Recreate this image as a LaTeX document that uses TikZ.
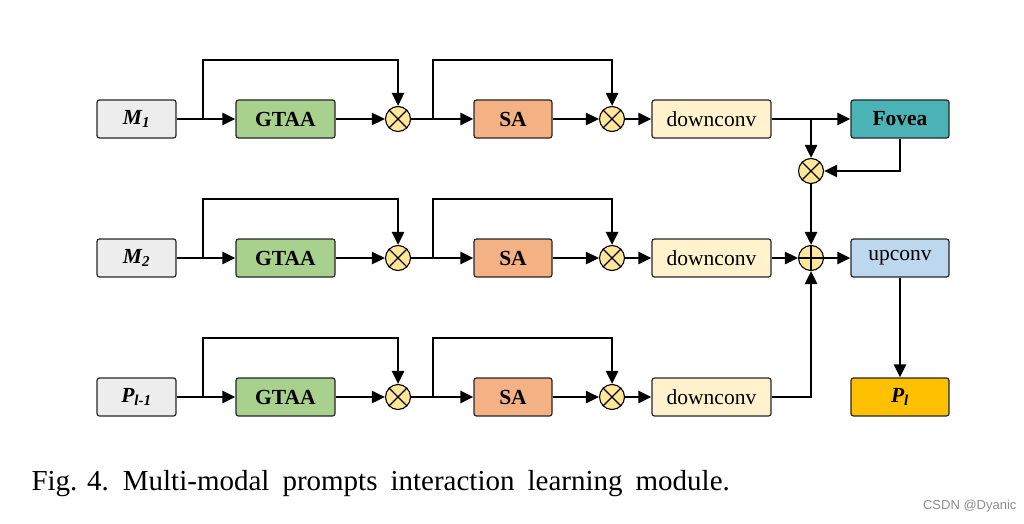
\documentclass[tikz,border=0pt]{standalone}
\usepackage{fontspec}
\setmainfont{Liberation Serif}
\setsansfont{Liberation Sans}
\usetikzlibrary{arrows.meta}
\begin{document}
\begin{tikzpicture}[x=1pt,y=-1pt,
 box/.style={draw=black!85,line width=1.2pt,rounded corners=2.5pt,minimum height=38pt,inner sep=0pt,font=\fontsize{21.5}{23}\selectfont},
 op/.style={draw=black,line width=1.1pt,circle,fill={rgb,255:red,255;green,230;blue,153},minimum size=25pt,inner sep=0pt},
 ar/.style={line width=2.6pt,-{Triangle[length=13pt,width=12pt]}},
 ln/.style={line width=2.6pt}]
\useasboundingbox (0,0) rectangle (1024,524);
\newcommand{\row}[4]{%
 \node[box,fill=black!7,minimum width=79pt] (m#1) at (136.5,#2) {#3};
 \node[box,fill={rgb,255:red,169;green,209;blue,142},minimum width=99pt] (g#1) at (285.5,#2) {\textbf{GTAA}};
 \node[op] (x#1) at (398,#2) {};
 \draw[line width=1.1pt] (x#1.north east)--(x#1.south west) (x#1.north west)--(x#1.south east);
 \node[box,fill={rgb,255:red,244;green,177;blue,131},minimum width=78pt] (s#1) at (513,#2) {\textbf{SA}};
 \node[op] (y#1) at (612,#2) {};
 \draw[line width=1.1pt] (y#1.north east)--(y#1.south west) (y#1.north west)--(y#1.south east);
 \node[box,fill={rgb,255:red,255;green,242;blue,204},minimum width=119pt] (d#1) at (711.5,#2) {downconv};
 \coordinate (a#1) at (203,#2); \coordinate (b#1) at (433,#2);
 \draw[ar] (m#1) -- (g#1);
 \draw[ar] (a#1) |- (300,#4) -| (x#1);
 \draw[ar] (g#1) -- (x#1);
 \draw[ar] (x#1) -- (s#1);
 \draw[ar] (b#1) |- (520,#4) -| (y#1);
 \draw[ar] (s#1) -- (y#1);
 \draw[ar] (y#1) -- (d#1);
}
\row{1}{119}{\textbf{\textit{M\textsubscript{1}}}}{60}
\row{2}{258}{\textbf{\textit{M\textsubscript{2}}}}{199}
\row{3}{397}{\textbf{\textit{P\textsubscript{l-1}}}}{338}
\node[box,fill={rgb,255:red,75;green,179;blue,182},minimum width=98pt] (fv) at (900,119) {\textbf{Fovea}};
\node[box,fill={rgb,255:red,189;green,215;blue,238},minimum width=98pt] (up) at (900,258) {upconv};
\node[box,fill={rgb,255:red,255;green,192;blue,0},minimum width=98pt] (pl) at (900,397) {\textbf{\textit{P\textsubscript{l}}}};
\node[op] (mx) at (811,171) {};
\draw[line width=1.1pt] (mx.north east)--(mx.south west) (mx.north west)--(mx.south east);
\node[op] (pp) at (811,258) {};
\draw[line width=1.1pt] (pp.north)--(pp.south) (pp.west)--(pp.east);
\coordinate (c1) at (811,119);
\draw[ar] (d1) -- (fv);
\draw[ar] (c1) -- (mx);
\draw[ar] (fv.south) |- (mx);
\draw[ar] (mx) -- (pp);
\draw[ar] (d2) -- (pp);
\draw[ar] (d3) -| (pp);
\draw[ar] (pp) -- (up);
\draw[ar] (up) -- (pl);
\node[anchor=west,font=\fontsize{29}{32}\selectfont] (cap) at (28,484) {Fig. 4.\hspace{14pt}Multi-modal\hspace{13pt}prompts\hspace{13pt}interaction\hspace{13pt}learning\hspace{13pt}module.};
\node[anchor=east,text=black!45,font=\sffamily\fontsize{13}{15}\selectfont] (wm) at (1020,506) {CSDN @Dyanic};
\end{tikzpicture}
\end{document}
